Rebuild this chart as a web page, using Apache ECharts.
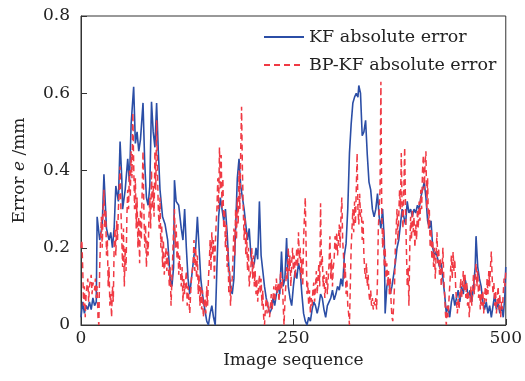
<!DOCTYPE html>
<html>
<head>
<meta charset="utf-8">
<script src="https://cdn.jsdelivr.net/npm/echarts@6/dist/echarts.min.js"></script>
<style>html,body{margin:0;padding:0;background:#fff}#c{width:525px;height:381px}</style>
</head>
<body>
<div id="c"></div>
<script>
var seriesNames = ['KF absolute error', 'BP-KF absolute error'];
var xTicks = [0, 250, 500];
var yTicks = [0, 0.2, 0.4, 0.6, 0.8];

// KF absolute error: [image index, error mm]
var kfPoints = [
[0,0.02],[2,0.06],[4,0.03],[6,0.05],[8,0.04],[10,0.06],[12,0.04],[14,0.07],[16,0.05],[18,0.06],
[19,0.28],[22,0.22],[25,0.26],[27,0.39],[30,0.25],[33,0.22],[35,0.24],[37,0.2],[39,0.25],[41,0.36],
[44,0.32],[46,0.475],[48,0.38],[49,0.30],[52,0.35],[55,0.43],[57,0.37],[59,0.52],[62,0.617],[64,0.47],
[66,0.5],[68,0.45],[70,0.48],[73,0.575],[75,0.42],[77,0.33],[79,0.31],[81,0.36],[83,0.578],[85,0.5],
[87,0.46],[89,0.575],[91,0.45],[93,0.35],[96,0.28],[99,0.26],[102,0.22],[105,0.12],[107,0.1],[109,0.15],
[110,0.375],[112,0.32],[115,0.31],[118,0.25],[120,0.22],[122,0.30],[124,0.2],[126,0.12],[128,0.08],[130,0.12],
[133,0.18],[135,0.2],[137,0.28],[139,0.2],[141,0.12],[143,0.08],[145,0.05],[148,0.01],[150,0],[152,0.03],
[154,0.05],[156,0.02],[158,0],[160,0.15],[162,0.28],[164,0.33],[166,0.3],[168,0.27],[170,0.3],[172,0.24],
[174,0.15],[176,0.1],[178,0.08],[180,0.12],[182,0.25],[184,0.38],[186,0.43],[188,0.36],[190,0.33],[192,0.3],
[194,0.26],[196,0.22],[198,0.25],[200,0.18],[202,0.15],[204,0.16],[206,0.2],[208,0.17],[210,0.32],[212,0.18],
[214,0.14],[216,0.1],[218,0.07],[220,0.05],[222,0.03],[224,0.04],[226,0.07],[228,0.05],[230,0.08],[232,0.1],
[234,0.08],[236,0.19],[238,0.1],[240,0.12],[242,0.225],[244,0.1],[246,0.07],[248,0.05],[250,0.1],[252,0.14],
[254,0.12],[256,0.16],[258,0.14],[260,0.08],[262,0.03],[264,0.01],[266,0],[268,0.02],[270,0.01],[272,0.04],
[274,0.06],[276,0.05],[278,0.03],[280,0.05],[282,0.08],[284,0.07],[286,0.04],[288,0.02],[290,0.05],[292,0.06],
[294,0.07],[296,0.09],[298,0.065],[300,0.08],[302,0.1],[304,0.09],[306,0.12],[308,0.1],[310,0.18],[312,0.21],
[314,0.3],[316,0.445],[318,0.52],[320,0.575],[322,0.59],[324,0.6],[326,0.59],[327,0.62],[329,0.6],[331,0.49],
[333,0.5],[335,0.53],[337,0.44],[339,0.37],[341,0.35],[343,0.3],[345,0.28],[347,0.3],[349,0.34],[351,0.28],
[353,0.25],[355,0.3],[357,0.22],[358,0.03],[360,0.1],[362,0.12],[364,0.08],[366,0.1],[368,0.13],[370,0.16],
[372,0.2],[374,0.22],[376,0.26],[378,0.3],[380,0.28],[382,0.26],[384,0.32],[386,0.29],[388,0.3],[390,0.28],
[392,0.3],[394,0.29],[396,0.31],[398,0.3],[400,0.33],[402,0.35],[404,0.37],[406,0.33],[408,0.27],[410,0.25],
[412,0.27],[414,0.2],[416,0.18],[418,0.19],[420,0.17],[422,0.15],[424,0.16],[426,0.12],[428,0.08],[430,0.03],
[432,0.05],[434,0.02],[436,0.06],[438,0.08],[440,0.05],[442,0.07],[444,0.09],[446,0.06],[448,0.1],[450,0.08],
[452,0.12],[454,0.1],[456,0.07],[458,0.09],[460,0.06],[462,0.1],[464,0.15],[465,0.23],[467,0.15],[469,0.12],
[471,0.1],[473,0.06],[475,0.04],[477,0.06],[479,0.03],[481,0.05],[483,0.02],[485,0.05],[487,0.08],[489,0.04],
[491,0.06],[493,0.03],[495,0.05],[497,0.02],[499,0.08],[500,0.15]
];

// BP-KF absolute error: [image index, error mm]
var bpkfPoints = [
[0,0.2],[1,0.22],[2,0.15],[3,0.05],[4,0.1],[5,0.02],[6,0.08],[8,0.12],[9,0.06],[10,0.1],
[12,0.13],[13,0.08],[14,0.11],[16,0.09],[17,0.12],[18,0.07],[19,0.1],[20,0.02],[21,0],[22,0.15],
[23,0.22],[24,0.28],[25,0.2],[26,0.3],[27,0.35],[28,0.25],[29,0.3],[30,0.18],[31,0.22],[32,0.1],
[33,0.15],[34,0.05],[35,0.08],[36,0.02],[37,0.1],[38,0.06],[39,0.2],[40,0.25],[41,0.18],[42,0.27],
[43,0.22],[44,0.3],[45,0.35],[46,0.41],[47,0.3],[48,0.22],[49,0.15],[50,0.25],[51,0.1],[52,0.2],
[53,0.14],[54,0.28],[55,0.35],[56,0.3],[57,0.4],[58,0.33],[59,0.45],[60,0.38],[61,0.55],[62,0.42],
[63,0.3],[64,0.38],[65,0.25],[66,0.33],[67,0.2],[68,0.28],[69,0.16],[70,0.3],[71,0.22],[72,0.35],
[73,0.45],[74,0.3],[75,0.2],[76,0.26],[77,0.15],[78,0.22],[79,0.18],[80,0.28],[81,0.33],[82,0.25],
[83,0.4],[84,0.3],[85,0.36],[86,0.28],[87,0.45],[88,0.35],[89,0.53],[90,0.4],[91,0.3],[92,0.25],
[93,0.33],[94,0.2],[95,0.26],[96,0.15],[97,0.22],[98,0.13],[100,0.2],[101,0.14],[102,0.19],[104,0.1],
[105,0.15],[106,0.05],[107,0.12],[108,0.18],[109,0.25],[110,0.3],[111,0.2],[112,0.26],[113,0.17],[114,0.22],
[115,0.13],[116,0.18],[118,0.1],[119,0.15],[120,0.06],[121,0.12],[122,0.08],[124,0.14],[125,0.05],[126,0.1],
[128,0.03],[129,0.08],[130,0.12],[132,0.16],[133,0.22],[134,0.14],[135,0.2],[136,0.12],[137,0.18],[138,0.08],
[139,0.13],[140,0.05],[141,0.1],[142,0.04],[143,0.09],[144,0.02],[146,0.07],[147,0.03],[148,0.1],[149,0.05],
[150,0.12],[151,0.16],[152,0.22],[153,0.14],[154,0.24],[155,0.18],[156,0.22],[157,0.12],[158,0.2],[159,0.26],
[160,0.3],[161,0.38],[162,0.3],[163,0.46],[164,0.35],[165,0.44],[166,0.3],[167,0.38],[168,0.25],[169,0.3],
[170,0.2],[171,0.26],[172,0.15],[173,0.2],[174,0.08],[175,0.14],[176,0.05],[177,0.1],[178,0.12],[179,0.18],
[180,0.25],[181,0.18],[182,0.3],[183,0.22],[184,0.33],[185,0.26],[186,0.4],[187,0.3],[188,0.45],[189,0.565],
[190,0.4],[191,0.3],[192,0.22],[193,0.28],[194,0.18],[195,0.24],[196,0.14],[197,0.2],[198,0.1],[200,0.15],
[201,0.2],[202,0.12],[203,0.18],[204,0.1],[205,0.14],[206,0.08],[207,0.12],[208,0.06],[209,0.1],[210,0.13],
[211,0.08],[212,0.12],[213,0.05],[214,0.09],[215,0.02],[216,0],[217,0.04],[218,0.07],[219,0.03],[220,0.06],
[222,0.02],[223,0.05],[224,0.08],[225,0.04],[226,0.07],[227,0.1],[228,0.06],[229,0.09],[230,0.12],[231,0.08],
[232,0.11],[233,0.06],[234,0.1],[235,0.14],[236,0.09],[237,0.12],[238,0.05],[239,0],[240,0.06],[241,0.1],
[242,0.15],[243,0.12],[244,0.2],[245,0.14],[246,0.18],[247,0.1],[248,0.16],[249,0.2],[250,0.14],[251,0.18],
[252,0.12],[253,0.16],[254,0.2],[255,0.15],[256,0.24],[257,0.17],[258,0.2],[259,0.12],[260,0.17],[261,0.1],
[262,0.22],[263,0.28],[264,0.33],[265,0.2],[266,0.08],[267,0.11],[268,0.05],[269,0.09],[270,0.03],[271,0.07],
[272,0.05],[273,0.09],[274,0.11],[275,0.06],[276,0.1],[277,0.14],[278,0.08],[279,0.12],[280,0.16],[281,0.1],
[282,0.315],[283,0.15],[284,0.18],[285,0.1],[286,0.13],[287,0.07],[288,0.1],[289,0.14],[290,0.08],[291,0.12],
[292,0.16],[293,0.23],[294,0.12],[295,0.17],[296,0.1],[297,0.15],[298,0.17],[299,0.23],[300,0.19],[301,0.24],
[302,0.18],[303,0.22],[304,0.26],[305,0.2],[306,0.28],[307,0.33],[308,0.22],[309,0.18],[310,0.12],[311,0.16],
[312,0.08],[313,0.12],[314,0.05],[315,0.03],[316,0],[317,0.1],[318,0.2],[319,0.25],[320,0.3],[321,0.24],
[322,0.32],[323,0.26],[324,0.35],[325,0.445],[326,0.3],[327,0.26],[328,0.34],[329,0.28],[330,0.3],[331,0.22],
[332,0.27],[333,0.18],[334,0.14],[335,0.12],[336,0.16],[337,0.1],[338,0.13],[339,0.08],[340,0.06],[341,0.09],
[342,0.05],[343,0.07],[344,0.04],[345,0.06],[346,0.05],[347,0.07],[348,0.04],[349,0.12],[350,0.25],[351,0.3],
[352,0.35],[353,0.63],[354,0.3],[355,0.2],[356,0.25],[357,0.15],[358,0.2],[359,0.12],[360,0.16],[361,0.1],
[362,0.14],[363,0.08],[364,0.12],[365,0.06],[366,0.02],[367,0.01],[368,0.05],[369,0.1],[370,0.2],[371,0.25],
[372,0.3],[373,0.22],[374,0.28],[375,0.35],[376,0.3],[377,0.445],[378,0.3],[379,0.25],[380,0.35],[381,0.46],
[382,0.3],[383,0.2],[384,0.1],[385,0.15],[386,0.05],[387,0.2],[388,0.28],[389,0.22],[390,0.3],[391,0.24],
[392,0.28],[393,0.2],[394,0.26],[395,0.22],[396,0.3],[397,0.25],[398,0.32],[399,0.27],[400,0.35],[401,0.3],
[402,0.4],[403,0.44],[404,0.35],[405,0.42],[406,0.45],[407,0.3],[408,0.38],[409,0.25],[410,0.3],[411,0.2],
[412,0.25],[413,0.17],[414,0.22],[415,0.15],[416,0.2],[417,0.12],[418,0.18],[419,0.24],[420,0.16],[421,0.2],
[422,0.13],[423,0.17],[424,0.1],[425,0.14],[426,0.2],[427,0.12],[428,0.08],[429,0.03],[430,0],[431,0.05],
[432,0.02],[433,0.06],[434,0.1],[435,0.14],[436,0.18],[437,0.12],[438,0.19],[439,0.14],[440,0.17],[441,0.1],
[442,0.06],[443,0.03],[444,0.07],[445,0.04],[446,0.08],[447,0.12],[448,0.07],[449,0.1],[450,0.14],[451,0.09],
[452,0.13],[453,0.07],[454,0.11],[455,0.05],[456,0.09],[457,0.02],[458,0.06],[459,0.1],[460,0.05],[461,0.09],
[462,0.13],[463,0.08],[464,0.12],[465,0.16],[466,0.1],[467,0.14],[468,0.07],[469,0.11],[470,0.04],[471,0.08],
[472,0.05],[473,0.09],[474,0.03],[475,0.07],[476,0.1],[477,0.06],[478,0.12],[479,0.08],[480,0.14],[481,0.1],
[482,0.15],[483,0.19],[484,0.12],[485,0.08],[486,0.11],[487,0.05],[488,0.09],[489,0.03],[490,0.07],[491,0.1],
[492,0.04],[493,0.08],[494,0.02],[495,0.06],[496,0.04],[497,0.08],[498,0.12],[499,0.1],[500,0.14]
];

var FONT = '"DejaVu Serif", "Liberation Serif", serif';
var chart = echarts.init(document.getElementById('c'), null, {renderer: 'canvas'});
chart.setOption({
  animation: false,
  backgroundColor: '#ffffff',
  grid: {left: 81, right: 18, top: 16, bottom: 56, show: true, borderColor: '#333', borderWidth: 1, backgroundColor: 'transparent'},
  legend: {
    data: seriesNames,
    orient: 'vertical',
    left: 263, top: 27, padding: 0,
    itemWidth: 40, itemHeight: 12, itemGap: 8,
    textStyle: {fontFamily: FONT, fontSize: 17.5, color: '#222', lineHeight: 20},
    itemStyle: {opacity: 0}
  },
  xAxis: {
    type: 'value', min: xTicks[0], max: xTicks[xTicks.length - 1], interval: xTicks[1] - xTicks[0],
    name: 'Image sequence', nameLocation: 'middle', nameGap: 27,
    nameTextStyle: {fontFamily: FONT, fontSize: 17, color: '#222'},
    axisLine: {show: true, lineStyle: {color: '#333', width: 1}},
    axisTick: {show: true, inside: true, length: 6, lineStyle: {color: '#333'}},
    axisLabel: {fontFamily: FONT, fontSize: 17, color: '#222', margin: 5},
    splitLine: {show: false}
  },
  yAxis: {
    type: 'value', min: yTicks[0], max: yTicks[yTicks.length - 1], interval: yTicks[1] - yTicks[0],
    name: '{a|Error }{b|e}{a| /mm}', nameLocation: 'middle', nameGap: 53, nameRotate: 90,
    nameTextStyle: {fontFamily: FONT, fontSize: 17, color: '#222',
      rich: {a: {fontFamily: FONT, fontSize: 17, color: '#222'}, b: {fontFamily: FONT, fontSize: 17, fontStyle: 'italic', color: '#222'}}},
    axisLine: {show: true, lineStyle: {color: '#333', width: 1}},
    axisTick: {show: true, inside: true, length: 6, lineStyle: {color: '#333'}},
    axisLabel: {fontFamily: FONT, fontSize: 17, color: '#222', margin: 11,
      formatter: function (v) { return v === 0 ? '0' : v.toFixed(1); }},
    splitLine: {show: false}
  },
  series: [
    {name: seriesNames[0], type: 'line', data: kfPoints, symbol: 'none', showSymbol: false,
     lineStyle: {color: '#2b4ea6', width: 1.6}, itemStyle: {color: '#2b4ea6'}},
    {name: seriesNames[1], type: 'line', data: bpkfPoints, symbol: 'none', showSymbol: false,
     lineStyle: {color: '#f03a44', width: 1.5, type: [6, 4]}, itemStyle: {color: '#f03a44'}}
  ]
});
</script>
</body>
</html>
